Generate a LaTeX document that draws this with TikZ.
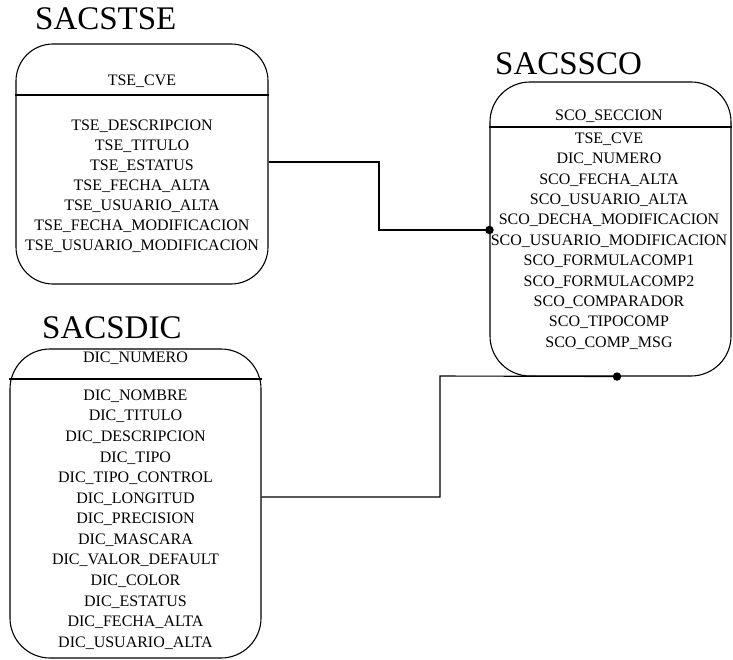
\documentclass[tikz,border=0pt]{standalone}
\usepackage{fontspec}
\setmainfont{Liberation Serif}
\usepackage{tikz}
\usetikzlibrary{positioning, calc}

\tikzset{
    tabla/.style={draw, line width=1.1pt, rounded corners=40pt, inner sep=0pt},
    campo/.style={font=\fontsize{16}{18}\selectfont, inner sep=0pt},
    titulo/.style={font=\fontsize{33}{36}\selectfont, anchor=base west, inner sep=0pt},
    linea/.style={line width=1.1pt},
    punto/.style={circle, fill, inner sep=0pt, minimum size=8.5pt}
}

\begin{document}
\begin{tikzpicture}[x=1pt, y=-1pt]
    \useasboundingbox (0,0) rectangle (733,660);

    % Tabla SACSTSE
    \node[titulo] (tse-titulo) at (35,30) {SACSTSE};
    \node[tabla, minimum width=252pt, minimum height=240pt, rounded corners=37pt] (tse) at (142,164) {};
    \node[campo] (tse-llave) at (142,81) {TSE\_CVE};
    \draw[linea] (tse.west |- 0,95) -- (tse.east |- 0,95);
    \foreach \campo [count=\i from 0] in {TSE\_DESCRIPCION, TSE\_TITULO, TSE\_ESTATUS,
        TSE\_FECHA\_ALTA, TSE\_USUARIO\_ALTA, TSE\_FECHA\_MODIFICACION,
        TSE\_USUARIO\_MODIFICACION} {
        \node[campo] (tse-\i) at (142, {126+20*\i}) {\campo};
    }

    % Tabla SACSSCO
    \node[titulo] (sco-titulo) at (495,75) {SACSSCO};
    \node[tabla, minimum width=241pt, minimum height=294pt] (sco) at (610.5,229) {};
    \node[campo] (sco-llave) at (609,116) {SCO\_SECCION};
    \draw[linea] (sco.west |- 0,127) -- (sco.east |- 0,127);
    \foreach \campo [count=\i from 0] in {TSE\_CVE, DIC\_NUMERO, SCO\_FECHA\_ALTA,
        SCO\_USUARIO\_ALTA, SCO\_DECHA\_MODIFICACION, SCO\_USUARIO\_MODIFICACION,
        SCO\_FORMULACOMP1, SCO\_FORMULACOMP2, SCO\_COMPARADOR, SCO\_TIPOCOMP,
        SCO\_COMP\_MSG} {
        \node[campo] (sco-\i) at (609, {139+20.4*\i}) {\campo};
    }

    % Tabla SACSDIC
    \node[titulo] (dic-titulo) at (42,338) {SACSDIC};
    \node[tabla, minimum width=251pt, minimum height=309pt] (dic) at (135.5,503.5) {};
    \node[campo] (dic-llave) at (135.5,358) {DIC\_NUMERO};
    \draw[linea] (dic.west |- 0,379) -- (dic.east |- 0,379);
    \foreach \campo [count=\i from 0] in {DIC\_NOMBRE, DIC\_TITULO, DIC\_DESCRIPCION,
        DIC\_TIPO, DIC\_TIPO\_CONTROL, DIC\_LONGITUD, DIC\_PRECISION, DIC\_MASCARA,
        DIC\_VALOR\_DEFAULT, DIC\_COLOR, DIC\_ESTATUS, DIC\_FECHA\_ALTA,
        DIC\_USUARIO\_ALTA} {
        \node[campo] (dic-\i) at (135.5, {396+20.58*\i}) {\campo};
    }

    % Relaciones
    \coordinate (codo1) at (379,162);
    \coordinate (codo2) at (379,230);
    \coordinate (codo3) at (440,497);
    \coordinate (codo4) at (440,376);
    \coordinate (enlace) at (617,376);

    \draw[linea] (tse.east |- codo1) -- (codo1) -- (codo2) -- (sco.west |- codo2)
        node[punto] (punto1) {};
    \draw[linea] (dic.east |- codo3) -- (codo3) -- (codo4) -- (sco.south -| enlace)
        node[punto] (punto2) {};

\end{tikzpicture}
\end{document}
